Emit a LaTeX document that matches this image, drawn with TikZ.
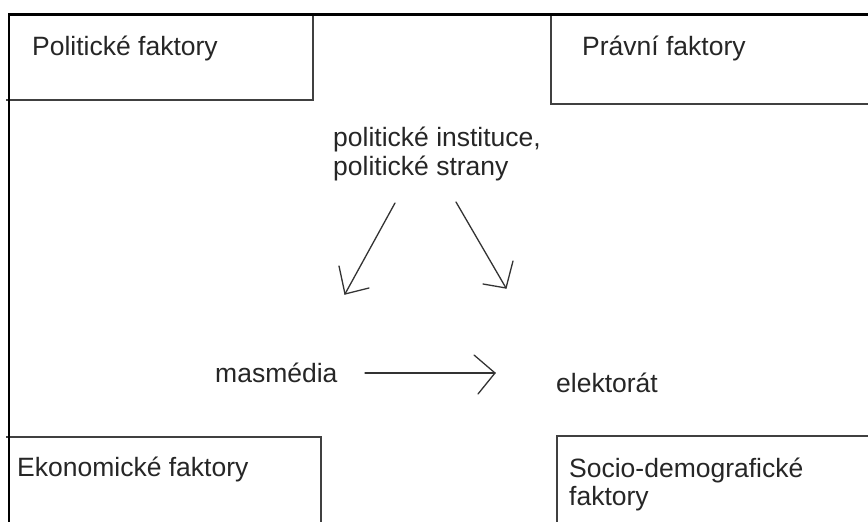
\documentclass[tikz,border=0pt]{standalone}
\usepackage{fontspec}
\setmainfont{Liberation Sans}
\begin{document}
\begin{tikzpicture}[x=1pt,y=-1pt,
  lbl/.style={anchor=base west,inner sep=0pt,text=black!85,font=\fontsize{26.5}{28}\selectfont},
  boxline/.style={draw=black!75,line width=1.4pt},
  hand/.style={draw=black!80,line width=1.3pt,line cap=round}]
\useasboundingbox[fill=white] (0,0) rectangle (868,522);
% boxes
\draw[boxline] (6,100) -- (313,100) -- (313,14);
\draw[boxline] (551,14) -- (551,104) -- (868,104);
\draw[boxline] (6,437) -- (321,437) -- (321,522);
\draw[boxline] (557,522) -- (557,436) -- (868,436);
% outer frame
\draw[black,line width=3pt] (8,14.5) -- (868,14.5);
\draw[black,line width=2.5pt] (9,13) -- (9,522);
% texts
\node[lbl] (pol) at (32,55) {Politické faktory};
\node[lbl] (prav) at (582,55) {Právní faktory};
\node[lbl] (inst1) at (333,146) {politické instituce,};
\node[lbl] (inst2) at (333,175) {politické strany};
\node[lbl] (mas) at (215,382) {masmédia};
\node[lbl] (ele) at (556,392) {elektorát};
\node[lbl] (eko) at (17,476) {Ekonomické faktory};
\node[lbl] (soc1) at (569,477) {Socio-demografické};
\node[lbl] (soc2) at (569,505) {faktory};
% arrows (hand drawn)
\coordinate (a1s) at (395,203); \coordinate (a1e) at (345,294);
\coordinate (a1b1) at (339,266); \coordinate (a1b2) at (369,288);
\draw[hand] (a1s) -- (a1e);
\draw[hand] (a1b1) -- (a1e) -- (a1b2);
\coordinate (a2s) at (456,202); \coordinate (a2e) at (506,288);
\coordinate (a2b1) at (513,261); \coordinate (a2b2) at (483,284);
\draw[hand] (a2s) -- (a2e);
\draw[hand] (a2b1) -- (a2e) -- (a2b2);
\coordinate (a3s) at (365,373); \coordinate (a3e) at (495,373);
\coordinate (a3b1) at (474,355); \coordinate (a3b2) at (478,394);
\draw[hand] (a3s) -- (a3e);
\draw[hand] (a3b1) -- (a3e) -- (a3b2);
\end{tikzpicture}
\end{document}
